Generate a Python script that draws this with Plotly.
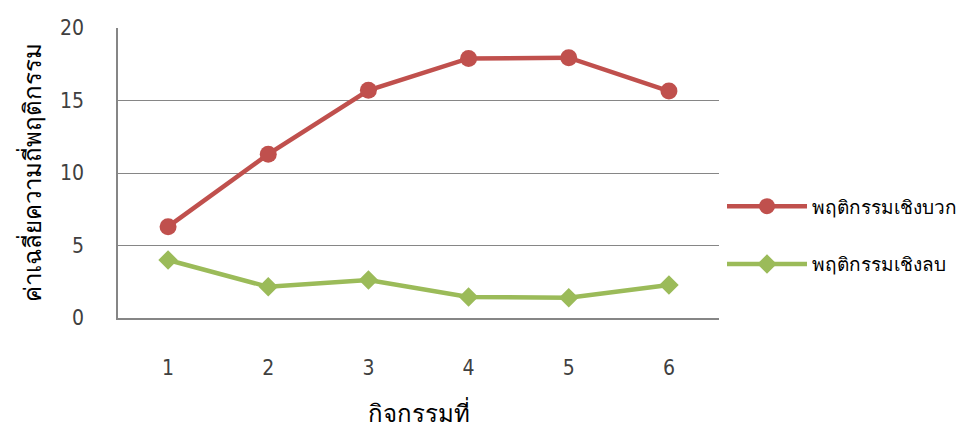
import plotly.graph_objects as go

categories = ["1", "2", "3", "4", "5", "6"]
positive = [6.3, 11.3, 15.7, 17.9, 17.95, 15.65]
negative = [4.0, 2.15, 2.62, 1.45, 1.4, 2.28]
series_names = ["พฤติกรรมเชิงบวก", "พฤติกรรมเชิงลบ"]
y_ticks = [0, 5, 10, 15, 20]
x_title = "กิจกรรมที่"
y_title = "ค่าเฉลี่ยความถี่พฤติกรรม"

FONT = "DejaVu Sans Condensed, DejaVu Sans, sans-serif"

fig = go.Figure()
fig.add_trace(go.Scatter(
    x=categories, y=positive, name=series_names[0], mode="lines+markers",
    legendgroup="a",
    line=dict(color="#C0504D", width=4.5),
    marker=dict(symbol="circle", size=17, color="#C0504D"),
))
fig.add_trace(go.Scatter(
    x=categories, y=negative, name=series_names[1], mode="lines+markers",
    legendgroup="b",
    line=dict(color="#9BBB59", width=4.5),
    marker=dict(symbol="diamond", size=15, color="#9BBB59"),
))

fig.update_layout(
    width=974, height=430,
    margin=dict(l=118, r=252, t=28, b=112),
    paper_bgcolor="white", plot_bgcolor="white",
    font=dict(family=FONT, size=21, color="#404040"),
    showlegend=True,
    legend=dict(x=1.005, y=0.285, xanchor="left", yanchor="middle",
                font=dict(size=19, color="#000000"), tracegroupgap=30,
                itemwidth=80),
    xaxis=dict(
        type="category", range=[-0.5, 5.5], automargin=False,
        showgrid=False, showline=True, linecolor="#868686", linewidth=1.5,
        ticks="", ticklabelstandoff=30,
        title=dict(text=x_title, font=dict(size=24, color="#000000"), standoff=26),
    ),
    yaxis=dict(
        range=[0, 20], tickvals=y_ticks, automargin=False,
        showgrid=True, gridcolor="#868686", gridwidth=1.2,
        showline=True, linecolor="#868686", linewidth=1.5,
        ticks="", ticklabelstandoff=28, zeroline=False,
        title=dict(text=y_title, font=dict(size=24, color="#000000"), standoff=12),
    ),
)

fig.write_html("out.html")
